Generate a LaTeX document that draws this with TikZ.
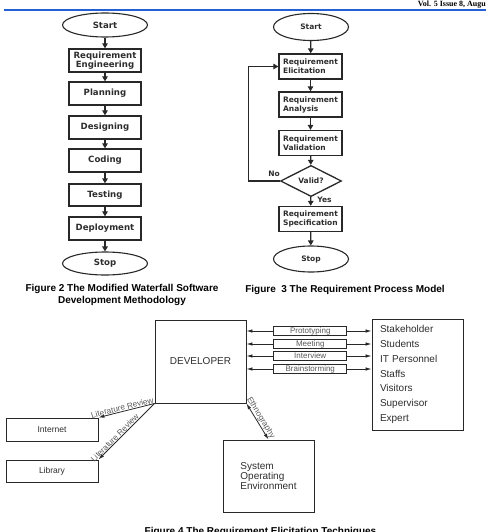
\documentclass[tikz,border=0pt]{standalone}
\usepackage{fontspec}
\setmainfont{Liberation Serif}
\setsansfont{Liberation Sans}
\newfontfamily\flowfamily{DejaVu Sans}
\usetikzlibrary{shapes.geometric,arrows.meta}
\definecolor{hdrblue}{RGB}{35,95,215}
\definecolor{flowtext}{RGB}{45,45,45}
\definecolor{linegray}{RGB}{40,40,40}
\tikzset{
  flowbox/.style={draw=linegray, line width=1.3, rectangle, minimum width=72, minimum height=23, inner sep=1, font=\flowfamily\bfseries\fontsize{8.6}{9.6}\selectfont, text=flowtext, align=center},
  flowell/.style={draw=linegray, line width=1.1, ellipse, minimum width=85, minimum height=24, inner sep=0, font=\flowfamily\bfseries\fontsize{8.6}{9.6}\selectfont, text=flowtext},
  reqbox/.style={draw=linegray, line width=1.3, rectangle, minimum width=63, minimum height=25, inner sep=1, font=\flowfamily\bfseries\fontsize{7.5}{9}\selectfont, text=flowtext, align=left},
  reqell/.style={draw=linegray, line width=1.1, ellipse, minimum width=75, minimum height=27, inner sep=0, font=\flowfamily\bfseries\fontsize{7.5}{9}\selectfont, text=flowtext},
  flowarr/.style={draw=linegray, line width=1.2, -{Triangle[length=5,width=5.5]}},
  flowlbl/.style={font=\flowfamily\bfseries\fontsize{7.5}{9}\selectfont, text=flowtext, inner sep=0},
  capt/.style={font=\sffamily\bfseries\fontsize{10}{12}\selectfont, text=black, align=center, inner sep=0},
  plainbox/.style={draw=linegray, line width=0.9, rectangle, font=\sffamily\fontsize{10}{9.6}\selectfont, text=flowtext},
  techlbl/.style={draw=linegray, line width=0.8, fill=white, rectangle, minimum width=73, minimum height=8.5, inner sep=0, font=\sffamily\fontsize{8}{8}\selectfont, text=black!65},
  biarr/.style={draw=linegray, line width=0.8, {Latex[length=6,width=3.5]}-{Latex[length=6,width=3.5]}},
  onearr/.style={draw=linegray, line width=0.8, -{Latex[length=6,width=3.5]}},
  edgelbl/.style={font=\sffamily\fontsize{8.2}{9}\selectfont, text=black!65, inner sep=0.5}
}
\begin{document}
\begin{tikzpicture}[x=1pt,y=-1pt]
\useasboundingbox (0,0) rectangle (486,532);
% header
\node[anchor=north east, inner sep=0, font=\rmfamily\bfseries\fontsize{8}{9}\selectfont] (hdr) at (486,0.5) {Vol. 5 Issue 8, Augu};
\draw[hdrblue, line width=2] (4,10) -- (486,10);

% Figure 2
\node[flowell] (s2) at (105,25) {Start};
\node[flowbox] (re) at (105,60.5) {Requirement\\Engineering};
\node[flowbox] (pl) at (105,93.5) {Planning};
\node[flowbox] (de) at (105,127.5) {Designing};
\node[flowbox] (co) at (105,160.5) {Coding};
\node[flowbox, minimum height=22] (te) at (105,195) {Testing};
\node[flowbox] (dp) at (105,228.5) {Deployment};
\node[flowell, minimum height=23] (e2) at (105,263.5) {Stop};
\foreach \a/\b in {s2/re,re/pl,pl/de,de/co,co/te,te/dp,dp/e2}
  \draw[flowarr] (\a) -- (\b);
\node[capt] (cap2) at (122,295) {Figure 2 The Modified Waterfall Software\\Development Methodology};

% Figure 3
\node[reqell] (s3) at (311,27) {Start};
\node[reqbox] (el) at (310.5,66.5) {Requirement\\Elicitation};
\node[reqbox] (an) at (310.5,104.5) {Requirement\\Analysis};
\node[reqbox] (va) at (310.5,143) {Requirement\\Validation};
\node[draw=linegray, line width=1.3, diamond, minimum width=61, minimum height=26, inner sep=0, font=\flowfamily\bfseries\fontsize{7.5}{9}\selectfont, text=flowtext] (vd) at (311,181) {Valid?};
\node[reqbox] (sp) at (310.5,219) {Requirement\\Specification};
\node[reqell, minimum height=26] (e3) at (311,259) {Stop};
\foreach \a/\b in {s3/el,el/an,an/va,va/vd,vd/sp,sp/e3}
  \draw[flowarr] (\a) -- (\b);
\draw[flowarr] (vd.west) -- ++(-31,0) |- (el.west);
\node[flowlbl] (no) at (274,174) {No};
\node[flowlbl] (yes) at (324.5,200) {Yes};
\node[capt] (cap3) at (345,290) {Figure\ \ 3 The Requirement Process Model};

% Figure 4
\node[plainbox, minimum width=91, minimum height=83] (dev) at (200.5,361.5) {DEVELOPER};
\node[plainbox, minimum height=111, inner xsep=8, text width=75, align=left, font=\sffamily\fontsize{10}{14.8}\selectfont] (stk) at (417.5,374.5) {Stakeholder\\Students\\IT Personnel\\Staffs\\Visitors\\Supervisor\\Expert};
\coordinate (ya) at (0,331);
\coordinate (yb) at (0,344);
\coordinate (yc) at (0,356);
\coordinate (yd) at (0,369);
\draw[biarr] (dev.east |- ya) -- (stk.west |- ya) node[techlbl, pos=0.51] (lp) {Prototyping};
\draw[biarr] (dev.east |- yb) -- (stk.west |- yb) node[techlbl, pos=0.51] (lm) {Meeting};
\draw[biarr] (dev.east |- yc) -- (stk.west |- yc) node[techlbl, pos=0.51] (li) {Interview};
\draw[biarr] (dev.east |- yd) -- (stk.west |- yd) node[techlbl, pos=0.51] (lb) {Brainstorming};

\node[plainbox, minimum width=92, minimum height=23, font=\sffamily\fontsize{8.5}{9}\selectfont] (inet) at (52,429.5) {Internet};
\node[plainbox, minimum width=92, minimum height=22, font=\sffamily\fontsize{8.5}{9}\selectfont] (lib) at (52,471) {Library};
\node[plainbox, minimum width=91, minimum height=72, align=left] (soe) at (268.5,476) {System\\Operating\\Environment};

\draw[onearr] (dev.south west) -- (inet.north east) node[edgelbl, pos=0.56, sloped, above] (lr1) {Literature Review};
\draw[onearr] (dev.south west) -- (lib.north east) node[edgelbl, pos=0.66, sloped, above] (lr2) {Literature Review};
\draw[biarr] (dev.south east) -- (soe.north) node[edgelbl, pos=0.47, sloped, above] (eth) {Ethnography};

\node[capt] (cap4) at (260.5,532) {Figure 4 The Requirement Elicitation Techniques};
\end{tikzpicture}
\end{document}
